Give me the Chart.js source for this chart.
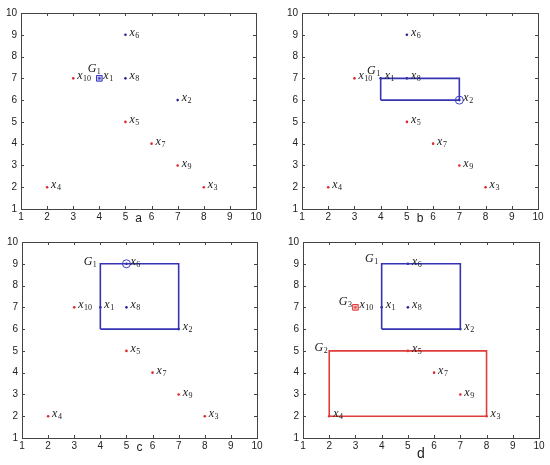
<!DOCTYPE html>
<html>
<head>
<meta charset="utf-8">
<script src="https://cdn.jsdelivr.net/npm/chart.js@4/dist/chart.umd.min.js"></script>
<style>
  body { margin: 0; background: #fff; width: 550px; height: 465px; position: relative; overflow: hidden; }
  .panel { position: absolute; }
</style>
</head>
<body>
<div class="panel" style="left:0;top:0;width:275px;height:232px"><canvas id="pa"></canvas></div>
<div class="panel" style="left:275px;top:0;width:275px;height:232px"><canvas id="pb"></canvas></div>
<div class="panel" style="left:0;top:232px;width:275px;height:233px"><canvas id="pc"></canvas></div>
<div class="panel" style="left:275px;top:232px;width:275px;height:233px"><canvas id="pd"></canvas></div>
<script>
// the ten points x1..x10
const pointNames = ["1", "2", "3", "4", "5", "6", "7", "8", "9", "10"];
const pointX = [4, 7, 8, 2, 5, 5, 6, 5, 7, 3];
const pointY = [7, 6, 2, 2, 5, 9, 4, 7, 3, 7];
const pointColor = ["blue", "blue", "red", "red", "red", "blue", "red", "blue", "red", "red"];

// group rectangles (closed outlines)
const smallBlueX = [4, 7, 7, 4, 4];
const smallBlueY = [6, 6, 7, 7, 6];
const bigBlueX = [4, 7, 7, 4, 4];
const bigBlueY = [6, 6, 9, 9, 6];
const redBoxX = [2, 8, 8, 2, 2];
const redBoxY = [2, 2, 5, 5, 2];

const axisTicks = [1, 2, 3, 4, 5, 6, 7, 8, 9, 10];

const BLUE = "#24249c";
const RED = "#e02828";

function pointData(color) {
  const out = [];
  pointX.forEach((x, i) => {
    if (pointColor[i] === color) out.push({ x: x, y: pointY[i] });
  });
  return out;
}

function xy(xs, ys) {
  return xs.map((x, i) => ({ x: x, y: ys[i] }));
}

// inner ticks + box frame, matlab style
const framePlugin = {
  id: "frame",
  afterDraw(chart) {
    const { ctx, chartArea: a, scales } = chart;
    ctx.save();
    ctx.strokeStyle = "#444";
    ctx.lineWidth = 1;
    ctx.strokeRect(Math.round(a.left) + 0.5, Math.round(a.top) + 0.5,
      Math.round(a.right - a.left), Math.round(a.bottom - a.top));
    ctx.beginPath();
    axisTicks.forEach(v => {
      const px = Math.round(scales.x.getPixelForValue(v)) + 0.5;
      const py = Math.round(scales.y.getPixelForValue(v)) + 0.5;
      ctx.moveTo(px, a.bottom); ctx.lineTo(px, a.bottom - 3);
      ctx.moveTo(px, a.top); ctx.lineTo(px, a.top + 3);
      ctx.moveTo(a.left, py); ctx.lineTo(a.left + 3, py);
      ctx.moveTo(a.right, py); ctx.lineTo(a.right - 3, py);
    });
    ctx.stroke();
    ctx.restore();
  }
};

function drawSub(ctx, main, sub, x, y, alignRight) {
  ctx.font = "italic 12px 'Liberation Serif'";
  const w1 = ctx.measureText(main).width;
  const subFont = "8px 'Liberation Serif'";
  ctx.font = subFont;
  const w2 = ctx.measureText(sub).width;
  let start = alignRight ? x - w1 - w2 : x;
  ctx.font = "italic 12px 'Liberation Serif'";
  ctx.fillText(main, start, y);
  ctx.font = subFont;
  ctx.fillText(sub, start + w1 + 0.5, y + 3);
}

const labelPlugin = {
  id: "ptLabels",
  afterDatasetsDraw(chart, args, opts) {
    const { ctx, scales } = chart;
    ctx.save();
    ctx.fillStyle = "#1a1a1a";
    ctx.textBaseline = "middle";
    ctx.textAlign = "left";
    pointNames.forEach((n, i) => {
      const px = scales.x.getPixelForValue(pointX[i]);
      const py = scales.y.getPixelForValue(pointY[i]);
      drawSub(ctx, "x", n, px + 4, py - 2, false);
    });
    (opts.groups || []).forEach(g => {
      const px = scales.x.getPixelForValue(g.x);
      const py = scales.y.getPixelForValue(g.y);
      drawSub(ctx, "G", g.name, px + g.dx, py + g.dy, true);
    });
    ctx.restore();
  }
};

function makeChart(id, letter, extra, groups, pad, yWidth, xHeight, titlePad, titleSize) {
  const datasets = [
    { data: pointData("red"), backgroundColor: RED, borderColor: RED, pointRadius: 1.3, borderWidth: 0, order: 3 },
    { data: pointData("blue"), backgroundColor: BLUE, borderColor: BLUE, pointRadius: 1.3, borderWidth: 0, order: 3 }
  ].concat(extra);

  return new Chart(document.getElementById(id), {
    type: "scatter",
    data: { datasets: datasets },
    options: {
      animation: false,
      responsive: true,
      maintainAspectRatio: false,
      layout: { padding: pad },
      plugins: {
        legend: { display: false },
        tooltip: { enabled: false },
        ptLabels: { groups: groups }
      },
      scales: {
        x: {
          type: "linear", min: 1, max: 10,
          grid: { display: false, drawTicks: false },
          border: { display: false },
          afterFit: s => { s.height = xHeight; },
          ticks: {
            stepSize: 1, maxRotation: 0, autoSkip: false, padding: 2,
            color: "#222", font: { family: "'Liberation Sans'", size: 10 }
          },
          title: {
            display: true, text: letter, color: "#222",
            font: { family: "'Liberation Sans'", size: titleSize },
            padding: { top: 0, bottom: titlePad }
          }
        },
        y: {
          type: "linear", min: 1, max: 10,
          grid: { display: false, drawTicks: false },
          border: { display: false },
          afterFit: s => { s.width = yWidth; },
          ticks: {
            stepSize: 1, padding: 4,
            color: "#222", font: { family: "'Liberation Sans'", size: 10 }
          }
        }
      }
    },
    plugins: [framePlugin, labelPlugin]
  });
}

function boxSet(xs, ys, color) {
  return {
    data: xy(xs, ys), showLine: true, fill: false, borderColor: color, borderWidth: 1.6,
    pointRadius: 0, tension: 0, order: 2
  };
}

function markerSet(i, style, fillColor, color) {
  return {
    data: [{ x: pointX[i], y: pointY[i] }], pointStyle: style, pointRadius: 4,
    backgroundColor: fillColor, borderColor: color, borderWidth: 1, order: 1
  };
}

makeChart("pa", "a",
  [markerSet(0, "rect", "rgba(120,120,230,0.45)", "#3c3cc0")],
  [{ name: "1", x: 4, y: 7, dx: 1, dy: -9 }],
  { left: 0, top: 13, right: 19, bottom: 0 }, 21, 23, 6, 12);

makeChart("pb", "b",
  [boxSet(smallBlueX, smallBlueY, "#3434b4"), markerSet(1, "circle", "rgba(0,0,0,0)", "#3c3cc0")],
  [{ name: "1", x: 4, y: 7, dx: -1, dy: -7 }],
  { left: 7, top: 13, right: 12, bottom: 0 }, 20, 23, 6, 12);

makeChart("pc", "c",
  [boxSet(bigBlueX, bigBlueY, "#3434b4"), markerSet(5, "circle", "rgba(0,0,0,0)", "#3c3cc0")],
  [{ name: "1", x: 4, y: 9, dx: -4, dy: -2 }],
  { left: 2, top: 9, right: 18, bottom: 0 }, 20, 27, 10, 12);

makeChart("pd", "d",
  [boxSet(bigBlueX, bigBlueY, "#3434b4"), boxSet(redBoxX, redBoxY, "#e03c3c"),
   markerSet(9, "rect", "rgba(240,120,120,0.5)", "#e03c3c")],
  [{ name: "1", x: 4, y: 9, dx: -4, dy: -5 }, { name: "2", x: 2, y: 5, dx: -2, dy: -3 },
   { name: "3", x: 3, y: 7, dx: -4, dy: -5 }],
  { left: 8, top: 9, right: 11, bottom: 0 }, 20, 27, 2, 14);
</script>
</body>
</html>
